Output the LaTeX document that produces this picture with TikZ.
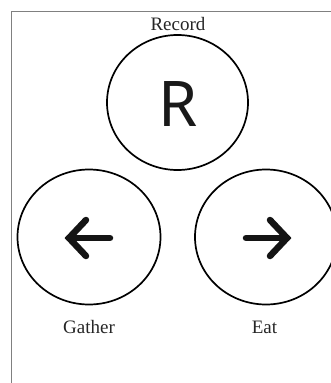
\documentclass[tikz,border=0pt]{standalone}
\usepackage{fontspec}
\setmainfont{Liberation Serif}
\newfontfamily\iconfont{Noto Sans}
\begin{document}
\begin{tikzpicture}[x=1pt,y=-1pt,
  disc/.style={draw=black,line width=1.7pt},
  lbl/.style={font=\fontsize{19}{19}\selectfont,text=black!85,inner sep=0pt},
  arr/.style={line width=6.5pt,line cap=round,line join=miter,draw=black!92}]
\useasboundingbox (0,0) rectangle (331,383);
\clip (0,0) rectangle (331,383);
% frame
\draw[black!50,line width=1.5pt] (11.7,383) -- (11.7,11.5) -- (331,11.5);
% circles
\draw[disc] (177.5,102.5) ellipse [x radius=70.5,y radius=67.5];
\draw[disc] (89,237) ellipse [x radius=71.5,y radius=67.5];
\draw[disc] (266,237) ellipse [x radius=71,y radius=67.5];
\node[circle,minimum size=135pt,inner sep=0pt] (rec) at (177.5,102.5) {};
\node[circle,minimum size=135pt,inner sep=0pt] (gat) at (89,237) {};
\node[circle,minimum size=135pt,inner sep=0pt] (eat) at (266,237) {};
% labels
\node[lbl] (lrec) at (178,24) {Record};
\node[lbl] (lgat) at (89,327) {Gather};
\node[lbl] (leat) at (264.5,327) {Eat};
% R
\node[font=\iconfont\fontsize{63}{63}\selectfont,text=black!90,inner sep=0pt] (r) at (178,104.5) {R};
% left arrow
\draw[arr] (110,238) -- (69,238);
\draw[arr] (86,220) -- (69,238) -- (86,256);
% right arrow
\draw[arr] (246,238) -- (287,238);
\draw[arr] (270,220) -- (287,238) -- (270,256);
\end{tikzpicture}
\end{document}
